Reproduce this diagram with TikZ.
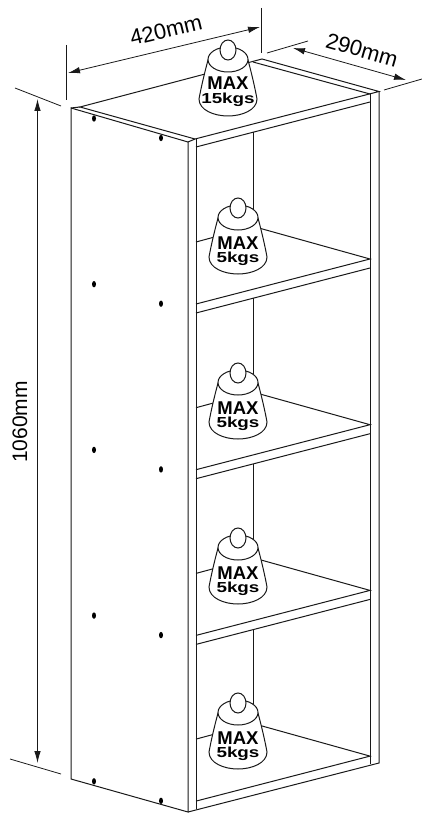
\documentclass[tikz,border=0pt]{standalone}
\usepackage{fontspec}
\setmainfont{Liberation Sans}
\usetikzlibrary{arrows.meta}

\tikzset{
    panel/.style={line width=1pt, black!90},
    dimline/.style={line width=0.8pt, black!90},
    dimarrow/.style={line width=0.8pt, black!90, {Latex[length=12pt,width=6.5pt]}-{Latex[length=12pt,width=6.5pt]}},
    dimlabel/.style={font=\fontsize{22}{22}\selectfont, inner sep=0pt},
    maxlabel/.style={font=\fontsize{18.5}{18.5}\selectfont\bfseries, inner sep=0pt},
    loadlabel/.style={font=\fontsize{14.5}{14.5}\selectfont\bfseries, inner sep=0pt},
    pics/weight/.style n args={2}{code={
        \draw[panel, fill=white] (-20,10) .. controls (-24,25) and (-27,38) .. (-29,49)
            .. controls (-29,60) and (-14,66) .. (0,66)
            .. controls (14,66) and (29,60) .. (29,49)
            .. controls (27,38) and (24,25) .. (20,10) -- cycle;
        \draw[panel, fill=white] (0,9.5) ellipse [x radius=20, y radius=12.5];
        \draw[panel, fill=white] (0,0) ellipse [x radius=8, y radius=10];
        \node[maxlabel] at (0,#2) {MAX};
        \node[loadlabel] at (0,#2+16) {\scalebox{1.3}[1]{#1}};
    }},
}

\begin{document}
\begin{tikzpicture}[x=1pt, y=-1pt]
\useasboundingbox (0,0) rectangle (422,813);

% Carcass
\draw[panel] (80,107) -- (262,59) -- (379,91.5) -- (195,139) -- cycle;
\draw[panel] (253,62) -- (370,94);
\draw[panel] (196,147) -- (370,102);
\draw[panel] (71,108) -- (188,142) -- (188,812) -- (71,779) -- cycle;
\draw[panel] (71,108) -- (80,107);
\draw[panel] (188,142) -- (195,139);
\draw[panel] (196,139) -- (196,809);
\draw[panel] (370,94) -- (370,764);
\draw[panel] (379,91.5) -- (379,763) -- (188,812);

% Back edge and shelves
\foreach \n in {0,1,2,3} {
    \pgfmathsetmacro{\d}{165.7*\n}
    \pgfmathsetmacro{\t}{\n==0 ? 132 : 298+165.7*(\n-1)}
    \draw[panel] (253.5,\t) -- (253.5,226.5+\d);
    \draw[panel] (196,242+\d) -- (253.5,226.5+\d) -- (370,259+\d) -- (196,304+\d);
    \ifnum\n<3
        \draw[panel] (196,313+\d) -- (370,268+\d);
    \fi
}

% Screws
\foreach \n in {0,1,2,3,4} {
    \fill[black] (94,118.5+165.7*\n) ellipse [x radius=2, y radius=3.2];
    \fill[black] (161,138+165.7*\n) ellipse [x radius=2, y radius=3.2];
}

% Weights
\pic at (228,50) {weight={15kgs}{33.5}};
\pic at (238,208) {weight={5kgs}{35}};
\pic at (238,373) {weight={5kgs}{35}};
\pic at (238,538) {weight={5kgs}{35}};
\pic at (238,703) {weight={5kgs}{35}};

% Dimensions
\coordinate (widthL) at (68,73);
\coordinate (widthR) at (260,27);
\coordinate (depthL) at (293,48);
\coordinate (depthR) at (406,80);
\coordinate (heightT) at (37.5,99);
\coordinate (heightB) at (37.5,763);

\draw[dimline] (66,45) -- (66,100);
\draw[dimline] (261,8) -- (261,53);
\draw[dimline] (267,53) -- (308,41);
\draw[dimline] (384,90) -- (422,79);
\draw[dimline] (15,88) -- (61,106);
\draw[dimline] (10,759) -- (61,774);

\draw[dimarrow] (widthL) -- (widthR);
\draw[dimarrow] (depthL) -- (depthR);
\draw[dimarrow] (heightT) -- (heightB);

\node[dimlabel, rotate=13.5] (width) at (166,30) {420mm};
\node[dimlabel, rotate=-16] (depth) at (362,50) {290mm};
\node[dimlabel, font=\fontsize{21}{21}\selectfont, rotate=90] (height) at (20,422) {1060mm};
\end{tikzpicture}
\end{document}
